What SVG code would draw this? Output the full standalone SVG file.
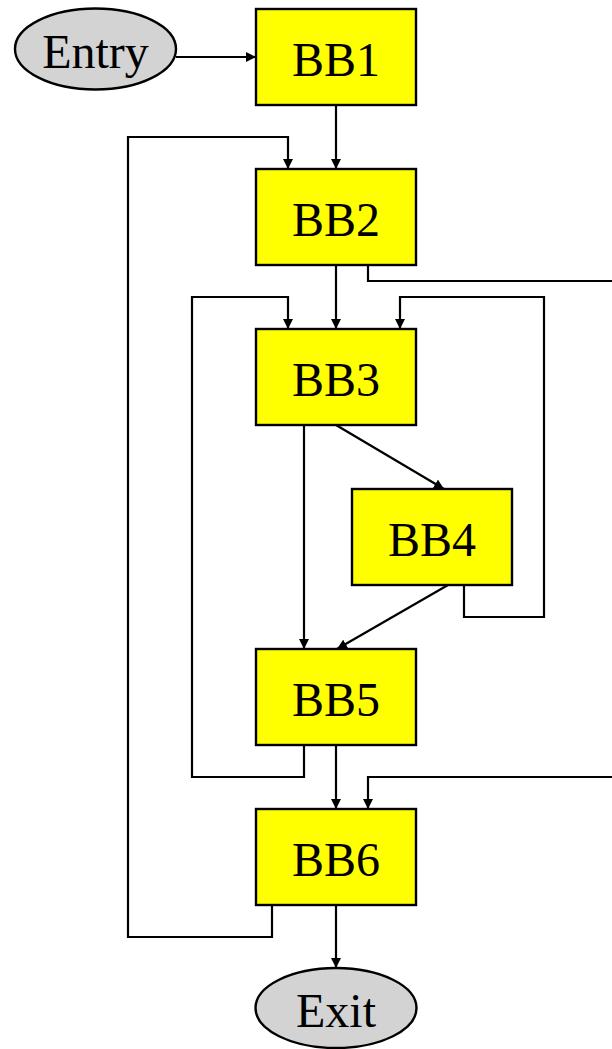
<svg xmlns="http://www.w3.org/2000/svg" width="612" height="1049" viewBox="0 0 612 1049">
<style>
.bb{fill:#FFFF00;stroke:#000;stroke-width:2.4}
.term{fill:#D3D3D3;stroke:#000;stroke-width:2.4}
.lbl{font-family:"Liberation Serif","Times New Roman",serif;font-size:48px;fill:#000;text-anchor:middle}
.e{fill:none;stroke:#000;stroke-width:2.2}
.ea{fill:none;stroke:#000;stroke-width:2.2;marker-end:url(#ah)}
</style>
<defs>
<marker id="ah" viewBox="0 0 10 10" refX="10" refY="5" markerWidth="10" markerHeight="10" markerUnits="userSpaceOnUse" orient="auto">
<path d="M0,0 L10,5 L0,10 z" fill="#000"/>
</marker>
</defs>
<rect width="612" height="1049" fill="#fff"/>
<g id="connectors">
<path class="ea" d="M176,57 L256,57"/>
<path class="ea" d="M336,105 L336,169"/>
<path class="ea" d="M272,905 L272,937 L128,937 L128,137 L288,137 L288,169"/>
<path class="ea" d="M336,265 L336,329"/>
<path class="e" d="M368,265 L368,281 L612,281"/>
<path class="ea" d="M304,745 L304,777 L192,777 L192,297 L288,297 L288,329"/>
<path class="ea" d="M464,585 L464,617 L544,617 L544,297 L400,297 L400,329"/>
<path class="ea" d="M304,425 L304,649"/>
<path class="ea" d="M336,425 L444,489"/>
<path class="ea" d="M448,585 L337,649"/>
<path class="ea" d="M336,745 L336,809"/>
<path class="ea" d="M612,777 L368,777 L368,809"/>
<path class="ea" d="M336,905 L336,968"/>
</g>
<g id="entry">
<ellipse class="term" cx="95.5" cy="49" rx="80.5" ry="40.5"/>
<text class="lbl" x="95.5" y="68">Entry</text>
</g>
<g id="bb1">
<rect class="bb" x="256" y="9" width="160" height="96"/>
<text class="lbl" x="336" y="76">BB1</text>
</g>
<g id="bb2">
<rect class="bb" x="256" y="169" width="160" height="96"/>
<text class="lbl" x="336" y="236">BB2</text>
</g>
<g id="bb3">
<rect class="bb" x="256" y="329" width="160" height="96"/>
<text class="lbl" x="336" y="396">BB3</text>
</g>
<g id="bb4">
<rect class="bb" x="352" y="489" width="160" height="96"/>
<text class="lbl" x="432" y="556">BB4</text>
</g>
<g id="bb5">
<rect class="bb" x="256" y="649" width="160" height="96"/>
<text class="lbl" x="336" y="716">BB5</text>
</g>
<g id="bb6">
<rect class="bb" x="256" y="809" width="160" height="96"/>
<text class="lbl" x="336" y="876">BB6</text>
</g>
<g id="exit">
<ellipse class="term" cx="336" cy="1008" rx="80.5" ry="40"/>
<text class="lbl" x="336" y="1027">Exit</text>
</g>
</svg>
